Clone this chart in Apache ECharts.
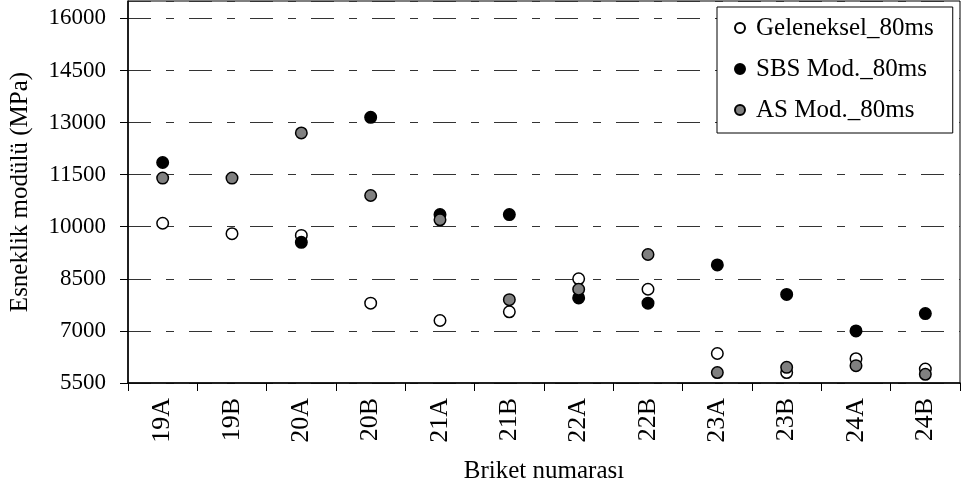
<!DOCTYPE html>
<html>
<head>
<meta charset="utf-8">
<script src="https://cdn.jsdelivr.net/npm/echarts@6/dist/echarts.min.js"></script>
<style>html,body{margin:0;padding:0;background:#fff}#c{width:963px;height:489px}</style>
</head>
<body>
<div id="c"></div>
<script>
var categories = ['19A','19B','20A','20B','21A','21B','22A','22B','23A','23B','24A','24B'];
var geleneksel = [10100, 9800, 9750, 7800, 7300, 7550, 8500, 8200, 6350, 5800, 6200, 5900];
var sbsMod = [11850, null, 9550, 13150, 10350, 10350, 7950, 7800, 8900, 8050, 7000, 7500];
var asMod = [11400, 11400, 12700, 10900, 10200, 7900, 8200, 9200, 5800, 5950, 6000, 5750];
var seriesNames = ['Geleneksel_80ms', 'SBS Mod._80ms', 'AS Mod._80ms'];
var yTitle = 'Esneklik modülü (MPa)';
var xTitle = 'Briket numarası';

var FONT = "'Liberation Serif', 'Times New Roman', serif";
var chart = echarts.init(document.getElementById('c'), null, {renderer: 'canvas'});
function mk(name, data, fill) {
  return {
    name: name, type: 'scatter', data: data,
    symbol: 'circle', symbolSize: 11.5,
    itemStyle: {color: fill, borderColor: '#000', borderWidth: 1.5, opacity: 1},
    emphasis: {disabled: true}
  };
}
chart.setOption({
  animation: false,
  backgroundColor: '#fff',
  textStyle: {fontFamily: FONT, color: '#000'},
  grid: {left: 125, right: 3, top: 1, bottom: 103, show: true, borderColor: '#000', borderWidth: 1, backgroundColor: 'transparent'},
  legend: {
    orient: 'vertical', left: 717, top: 7,
    padding: [6, 19, 8, 17],
    itemWidth: 22, itemHeight: 10, itemGap: 11,
    borderColor: '#000', borderWidth: 1, backgroundColor: '#fff',
    textStyle: {fontFamily: FONT, fontSize: 25, color: '#000', lineHeight: 30},
    data: seriesNames
  },
  xAxis: {
    type: 'category', data: categories, boundaryGap: true,
    name: xTitle, nameLocation: 'middle', nameGap: 76,
    nameTextStyle: {fontFamily: FONT, fontSize: 25, color: '#000'},
    axisLine: {lineStyle: {color: '#000', width: 1.5}},
    axisTick: {show: true, length: 8, inside: false, alignWithLabel: false, lineStyle: {color: '#000', width: 1}},
    axisLabel: {rotate: 90, margin: 15, fontFamily: FONT, fontSize: 26, color: '#000', interval: 0},
    splitLine: {show: false}
  },
  yAxis: {
    type: 'value', min: 5500, max: 16500, interval: 1500,
    name: yTitle, nameLocation: 'middle', nameGap: 95,
    nameTextStyle: {fontFamily: FONT, fontSize: 25, color: '#000'},
    axisLine: {show: true, lineStyle: {color: '#000', width: 1.5}},
    axisTick: {show: true, length: 8, inside: false, lineStyle: {color: '#000', width: 1}},
    axisLabel: {margin: 22, fontFamily: FONT, fontSize: 23, color: '#000', showMaxLabel: false,
      formatter: function (v) { return v > 16000 ? '' : String(v); }},
    splitLine: {show: true, lineStyle: {color: '#333', width: 1, type: [23, 15, 8, 15]}}
  },
  series: [
    mk(seriesNames[0], geleneksel, '#fff'),
    mk(seriesNames[1], sbsMod, '#000'),
    mk(seriesNames[2], asMod, '#808080')
  ]
});
</script>
</body>
</html>
